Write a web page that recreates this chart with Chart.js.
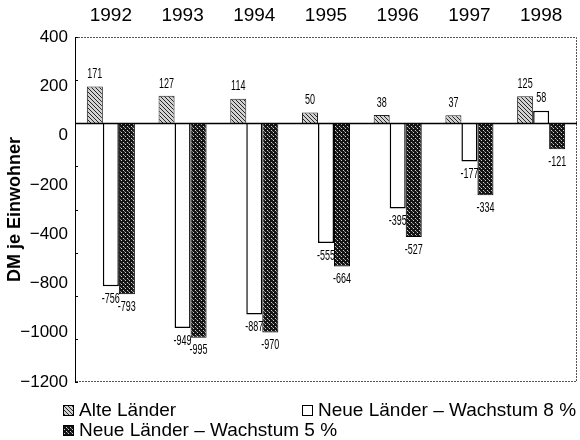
<!DOCTYPE html>
<html>
<head>
<meta charset="utf-8">
<script src="https://cdn.jsdelivr.net/npm/chart.js@4.4.1/dist/chart.umd.min.js"></script>
<style>
  body { margin: 0; background: #fff; }
  #wrap { position: relative; width: 580px; height: 440px; }
  .leg { position: absolute; font-family: "Liberation Sans", Arial, sans-serif; font-size: 19px; color: #000; line-height: 20px; white-space: nowrap; }
  .leg canvas { position: absolute; left: 0; top: 5px; }
  .leg span { position: absolute; left: 16px; top: 0; }
</style>
</head>
<body>
<div id="wrap">
  <canvas id="myChart" width="580" height="440"></canvas>
  <div class="leg" style="left:63px; top:400px;"><canvas id="sw0" width="11" height="11"></canvas><span>Alte Länder</span></div>
  <div class="leg" style="left:302px; top:400px;"><canvas id="sw1" width="11" height="11"></canvas><span>Neue Länder – Wachstum 8 %</span></div>
  <div class="leg" style="left:63px; top:420px;"><canvas id="sw2" width="11" height="11"></canvas><span>Neue Länder – Wachstum 5 %</span></div>
</div>
<script>
// Data
const YEARS = ['1992', '1993', '1994', '1995', '1996', '1997', '1998'];
const ALTE = [171, 127, 114, 50, 38, 37, 125];
const NEUE_8 = [-756, -949, -887, -555, -395, -177, 58];
const NEUE_5 = [-793, -995, -970, -664, -527, -334, -121];
// tick labels as printed (evenly spaced, -600 missing in the original)
const Y_TICK_LABELS = ['400', '200', '0', '−200', '−400', '−800', '−1000', '−1200'];
const SERIES_NAMES = ['Alte Länder', 'Neue Länder – Wachstum 8 %', 'Neue Länder – Wachstum 5 %'];

const FONT = '"Liberation Sans", Arial, sans-serif';

// fill patterns
function makeHatch(ctx) {
    const c = document.createElement('canvas');
    c.width = 4; c.height = 4;
    const g = c.getContext('2d');
    g.fillStyle = '#d2d2d2';
    g.fillRect(0, 0, 4, 4);
    g.strokeStyle = '#262626';
    g.lineWidth = 1;
    g.beginPath();
    g.moveTo(-1, -1); g.lineTo(5, 5);
    g.moveTo(-1, 3); g.lineTo(1, 5);
    g.moveTo(3, -1); g.lineTo(5, 1);
    g.stroke();
    return ctx.createPattern(c, 'repeat');
}

function makeStipple(ctx) {
    const c = document.createElement('canvas');
    c.width = 4; c.height = 4;
    const g = c.getContext('2d');
    g.fillStyle = '#141414';
    g.fillRect(0, 0, 4, 4);
    g.fillStyle = '#d0d0d0';
    g.fillRect(1, 0, 1, 1);
    g.fillRect(3, 2, 1, 1);
    g.fillStyle = '#7a7a7a';
    g.fillRect(0, 3, 1, 1);
    return ctx.createPattern(c, 'repeat');
}

const mainCtx = document.getElementById('myChart').getContext('2d');
const fills = [makeHatch(mainCtx), '#ffffff', makeStipple(mainCtx)];
const borders = ['#222222', '#000000', '#000000'];

// legend swatches
[0, 1, 2].forEach(i => {
    const sw = document.getElementById('sw' + i).getContext('2d');
    sw.fillStyle = i === 0 ? makeHatch(sw) : (i === 2 ? makeStipple(sw) : '#fff');
    sw.fillRect(0, 0, 11, 11);
    sw.strokeStyle = '#000';
    sw.lineWidth = 1;
    sw.strokeRect(0.5, 0.5, 10, 10);
});

// frame, zero line and value labels
const framePlugin = {
    id: 'framePlugin',
    beforeDatasetsDraw(chart) {
        const {ctx, chartArea: a} = chart;
        ctx.save();
        ctx.strokeStyle = '#555';
        ctx.lineWidth = 1;
        ctx.setLineDash([2, 1]);
        ctx.beginPath();
        ctx.moveTo(a.left, a.top + 0.5); ctx.lineTo(a.right - 0.5, a.top + 0.5);
        ctx.lineTo(a.right - 0.5, a.bottom - 0.5); ctx.lineTo(a.left, a.bottom - 0.5);
        ctx.stroke();
        ctx.setLineDash([]);
        ctx.strokeStyle = '#000';
        ctx.beginPath();
        ctx.moveTo(a.left + 0.5, a.top); ctx.lineTo(a.left + 0.5, a.bottom);
        ctx.stroke();
        // tick marks on left border
        const y = chart.scales.y;
        for (let v = 400; v >= -1200; v -= 200) {
            const py = Math.round(y.getPixelForValue(v)) + 0.5;
            ctx.beginPath();
            ctx.moveTo(a.left, py); ctx.lineTo(a.left + 3, py);
            ctx.stroke();
        }
        ctx.restore();
    },
    afterDatasetsDraw(chart) {
        const {ctx, chartArea: a} = chart;
        const y0 = Math.round(chart.scales.y.getPixelForValue(0)) + 0.5;
        ctx.save();
        ctx.strokeStyle = '#000';
        ctx.lineWidth = 1.5;
        ctx.beginPath();
        ctx.moveTo(a.left, y0); ctx.lineTo(a.right, y0);
        ctx.stroke();

        ctx.fillStyle = '#000';
        ctx.font = '15px ' + FONT;
        ctx.textAlign = 'center';
        chart.data.datasets.forEach((ds, di) => {
            chart.getDatasetMeta(di).data.forEach((bar, i) => {
                const v = ds.data[i];
                const txt = v < 0 ? '-' + Math.abs(v) : String(v);
                ctx.save();
                if (v >= 0) {
                    ctx.textBaseline = 'bottom';
                    ctx.translate(bar.x, bar.y - 5);
                } else {
                    ctx.textBaseline = 'top';
                    ctx.translate(bar.x, bar.y + 5);
                }
                ctx.scale(0.6, 1);
                ctx.fillText(txt, 0, 0);
                ctx.restore();
            });
        });
        ctx.restore();
    }
};

const myChart = new Chart(mainCtx, {
    type: 'bar',
    data: {
        labels: YEARS,
        datasets: [ALTE, NEUE_8, NEUE_5].map((vals, i) => ({
            label: SERIES_NAMES[i],
            data: vals,
            backgroundColor: fills[i],
            borderColor: borders[i],
            borderWidth: i === 1 ? 1.5 : 1,
            barPercentage: 1.0,
            categoryPercentage: 0.67,
            xAxisID: 'x',
            yAxisID: 'y'
        }))
    },
    options: {
        responsive: false,
        devicePixelRatio: 1,
        animation: false,
        layout: { padding: { left: 0, right: 3, top: 0, bottom: 58 } },
        plugins: {
            legend: { display: false },
            tooltip: { enabled: false }
        },
        scales: {
            x: {
                type: 'category',
                position: 'top',
                grid: { display: false, drawTicks: false },
                border: { display: false },
                ticks: { color: '#000', font: { family: FONT, size: 19 }, padding: 10 },
                afterFit(s) { s.height = 37; }
            },
            y: {
                type: 'linear',
                min: -1200,
                max: 400,
                display: false
            },
            yl: {
                type: 'category',
                axis: 'y',
                position: 'left',
                labels: Y_TICK_LABELS,
                offset: false,
                grid: { display: false, drawTicks: false },
                border: { display: false },
                ticks: { color: '#000', font: { family: FONT, size: 17 }, padding: 7, autoSkip: false },
                title: {
                    display: true,
                    text: 'DM je Einwohner',
                    color: '#000',
                    font: { family: FONT, size: 18, weight: 'bold' },
                    padding: { top: 4, bottom: 0 }
                },
                afterFit(s) { s.width = 75; }
            }
        }
    },
    plugins: [framePlugin]
});
</script>
</body>
</html>
